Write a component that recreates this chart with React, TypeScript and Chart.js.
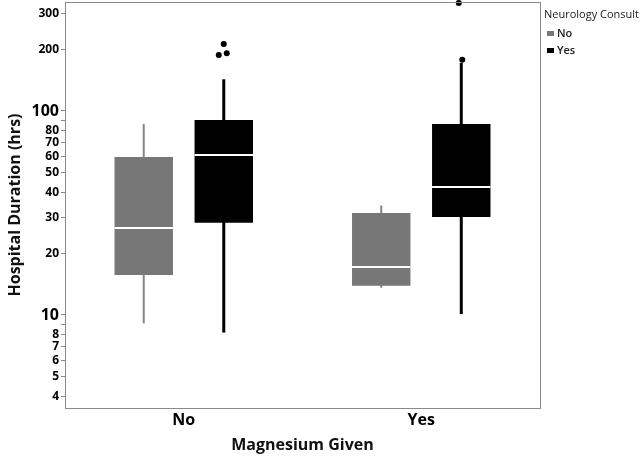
import React, { useEffect, useRef } from 'react';
import { Chart, registerables } from 'chart.js';

Chart.register(...registerables);

// ---- Data ----
const categories = ['No', 'Yes']; // Magnesium Given
const seriesNames = ['No', 'Yes']; // Neurology Consult

const consultNoMin = [9.1, 13.6];
const consultNoQ1 = [15.7, 13.9];
const consultNoMedian = [26.7, 17.2];
const consultNoQ3 = [59.5, 31.6];
const consultNoMax = [86.4, 34.4];
const consultNoOutliers: number[][] = [[], []];

const consultYesMin = [8.2, 10.1];
const consultYesQ1 = [28.3, 30.2];
const consultYesMedian = [60.8, 42.4];
const consultYesQ3 = [90.3, 86.4];
const consultYesMax = [143, 172];
const consultYesOutliers: number[][] = [[213, 188, 192], [178, 338]];

const yTickValues = [4, 5, 6, 7, 8, 9, 10, 20, 30, 40, 50, 60, 70, 80, 90, 100, 200, 300];
const yUnlabelledTicks = [9, 90];
const yBigTicks = [10, 100];

// ---- Styles ----
const boxColors = ['#777777', '#000000'];
const whiskerColors = ['#858585', '#000000'];
const whiskerWidths = [2, 3];
const outlierJitter: number[][][] = [
  [[], []],
  [[0, -5, 3], [1, -2.5]],
];
const FONT = '"Open Sans", "DejaVu Sans", sans-serif';

const stats = [
  { min: consultNoMin, median: consultNoMedian, max: consultNoMax, outliers: consultNoOutliers },
  { min: consultYesMin, median: consultYesMedian, max: consultYesMax, outliers: consultYesOutliers },
];

const boxPlugin = {
  id: 'boxExtras',
  beforeDatasetsDraw(chart: any) {
    const ctx = chart.ctx;
    const y = chart.scales.y;
    stats.forEach((s, d) => {
      const meta = chart.getDatasetMeta(d);
      meta.data.forEach((el: any, i: number) => {
        ctx.save();
        ctx.strokeStyle = whiskerColors[d];
        ctx.lineWidth = whiskerWidths[d];
        ctx.beginPath();
        ctx.moveTo(el.x, y.getPixelForValue(s.min[i]));
        ctx.lineTo(el.x, y.getPixelForValue(s.max[i]));
        ctx.stroke();
        ctx.restore();
      });
    });
  },
  afterDatasetsDraw(chart: any) {
    const ctx = chart.ctx;
    const y = chart.scales.y;
    stats.forEach((s, d) => {
      const meta = chart.getDatasetMeta(d);
      meta.data.forEach((el: any, i: number) => {
        const half = el.width / 2;
        const my = y.getPixelForValue(s.median[i]);
        ctx.save();
        ctx.strokeStyle = '#ffffff';
        ctx.lineWidth = 2;
        ctx.beginPath();
        ctx.moveTo(el.x - half, my);
        ctx.lineTo(el.x + half, my);
        ctx.stroke();
        ctx.fillStyle = '#000000';
        s.outliers[i].forEach((v, k) => {
          const jx = (outlierJitter[d][i] && outlierJitter[d][i][k]) || 0;
          ctx.beginPath();
          ctx.arc(el.x + jx, y.getPixelForValue(v), 3, 0, Math.PI * 2);
          ctx.fill();
        });
        ctx.restore();
      });
    });
  },
  afterDraw(chart: any) {
    const ctx = chart.ctx;
    const a = chart.chartArea;
    ctx.save();
    ctx.strokeStyle = '#8a8a8a';
    ctx.lineWidth = 1;
    ctx.strokeRect(Math.round(a.left) + 0.5, Math.round(a.top) + 0.5, Math.round(a.right - a.left), Math.round(a.bottom - a.top));
    // legend
    const lx = a.right + 4;
    ctx.fillStyle = '#222222';
    ctx.textBaseline = 'middle';
    ctx.textAlign = 'left';
    ctx.font = `11px ${FONT}`;
    ctx.fillText('Neurology Consult', lx, 15, 95);
    seriesNames.forEach((name, d) => {
      const cy = 33.5 + d * 17;
      ctx.fillStyle = boxColors[d];
      ctx.fillRect(lx + 3, cy - 2.5, 7, 5);
      ctx.fillStyle = '#222222';
      ctx.font = `600 11px ${FONT}`;
      ctx.fillText(name, lx + 13, cy);
    });
    ctx.restore();
  },
};

export default function App() {
  const canvasRef = useRef<HTMLCanvasElement | null>(null);

  useEffect(() => {
    document.body.style.margin = '0';
    const canvas = canvasRef.current;
    if (!canvas) return;
    const chart = new Chart(canvas, {
      type: 'bar',
      data: {
        labels: categories,
        datasets: [
          {
            label: seriesNames[0],
            data: categories.map((_, i) => [consultNoQ1[i], consultNoQ3[i]]) as any,
            backgroundColor: boxColors[0],
            borderWidth: 0,
            categoryPercentage: 0.674,
            barPercentage: 0.73,
          },
          {
            label: seriesNames[1],
            data: categories.map((_, i) => [consultYesQ1[i], consultYesQ3[i]]) as any,
            backgroundColor: boxColors[1],
            borderWidth: 0,
            categoryPercentage: 0.674,
            barPercentage: 0.73,
          },
        ],
      },
      options: {
        animation: false,
        responsive: true,
        maintainAspectRatio: false,
        layout: { padding: { top: 2, right: 100, left: 0, bottom: 0 } },
        plugins: {
          legend: { display: false },
          tooltip: { enabled: false },
        },
        scales: {
          x: {
            type: 'category',
            offset: true,
            grid: { display: false, drawTicks: false },
            border: { display: true, color: '#8a8a8a' },
            ticks: {
              padding: 3,
              color: '#000',
              font: { family: FONT, size: 16, weight: 'bold' },
            },
            title: {
              display: true,
              text: 'Magnesium Given',
              color: '#111',
              font: { family: FONT, size: 16, weight: 'bold' },
              padding: { top: 0, bottom: 1 },
            },
            afterFit: (scale: any) => {
              scale.height = 48;
            },
          },
          y: {
            type: 'logarithmic',
            min: 3.5,
            max: 342,
            grid: {
              display: true,
              drawOnChartArea: false,
              drawTicks: true,
              tickLength: 4,
              color: '#8a8a8a',
            },
            border: { display: true, color: '#8a8a8a' },
            afterBuildTicks: (scale: any) => {
              scale.ticks = yTickValues.map((v) => ({ value: v }));
            },
            ticks: {
              padding: 2,
              color: '#000',
              autoSkip: false,
              font: (c: any) => ({
                family: FONT,
                size: c.tick && yBigTicks.includes(c.tick.value) ? 16 : 12,
                weight: 'bold',
              }),
              callback: (v: any) => (yUnlabelledTicks.includes(Number(v)) ? '' : String(v)),
            },
            title: {
              display: true,
              text: 'Hospital Duration (hrs)',
              color: '#111',
              font: { family: FONT, size: 16, weight: 'bold' },
              padding: { top: 6, bottom: 4 },
            },
            afterFit: (scale: any) => {
              scale.width = 65;
              scale.paddingTop = 0;
              scale.paddingBottom = 0;
            },
          },
        },
      } as any,
      plugins: [boxPlugin],
    });
    return () => chart.destroy();
  }, []);

  return (
    <div style={{ width: 640, height: 456, position: 'relative', background: '#fff' }}>
      <canvas ref={canvasRef} />
    </div>
  );
}
